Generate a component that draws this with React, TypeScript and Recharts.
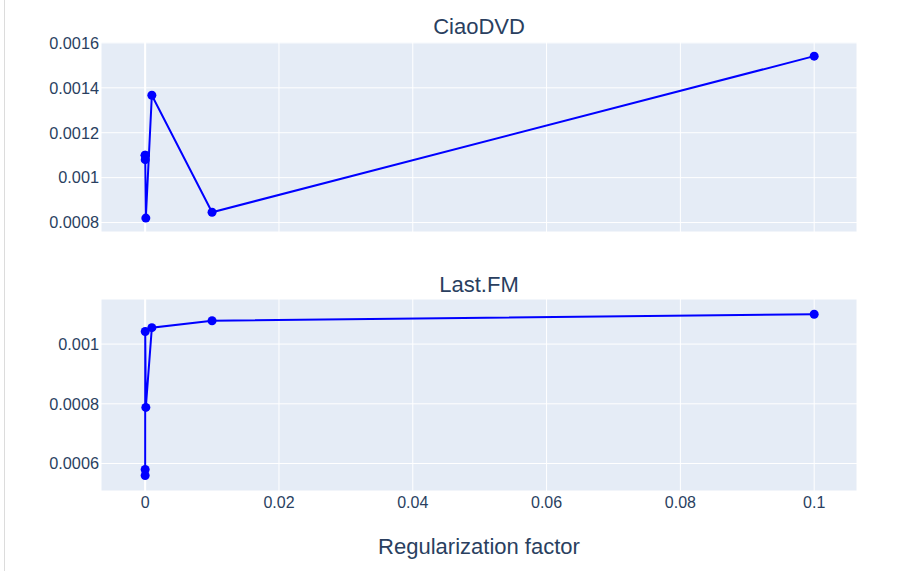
import { LineChart, Line, XAxis, YAxis, CartesianGrid, ReferenceLine } from "recharts";

// regularization factors (x) shared by both panels
const regFactors = [0, 0.000001, 0.00001, 0.0001, 0.001, 0.01, 0.1];

const ciaoDvdValues = [0.0011, 0.0011, 0.00108, 0.00082, 0.001367, 0.000846, 0.001541];
const lastFmValues = [0.00056, 0.00058, 0.001042, 0.000788, 0.001055, 0.001078, 0.0011];

const xTicks = [0, 0.02, 0.04, 0.06, 0.08, 0.1];
const ciaoTicks = [0.0008, 0.001, 0.0012, 0.0014, 0.0016];
const lastFmTicks = [0.0006, 0.0008, 0.001];

const xDomain: [number, number] = [-0.0066, 0.1064];
const ciaoDomain: [number, number] = [0.000758, 0.001604];
const lastFmDomain: [number, number] = [0.000508, 0.001151];

const TEXT = "#2a3f5f";
const FONT = '"Liberation Sans", Arial, sans-serif';

const ciaoData = regFactors.map((x, i) => ({ x, y: ciaoDvdValues[i] }));
const lastFmData = regFactors.map((x, i) => ({ x, y: lastFmValues[i] }));

function Panel({
  data,
  yDomain,
  yTicks,
  height,
  marginTop,
  showX,
}: {
  data: { x: number; y: number }[];
  yDomain: [number, number];
  yTicks: number[];
  height: number;
  marginTop: number;
  showX: boolean;
}) {
  return (
    <LineChart
      width={909}
      height={height}
      data={data}
      margin={{ top: marginTop, right: 52, left: 41, bottom: showX ? 40 : 8 }}
    >
      <CartesianGrid fill="#E5ECF6" stroke="#ffffff" strokeWidth={1} />
      <XAxis
        dataKey="x"
        type="number"
        domain={xDomain}
        ticks={xTicks}
        allowDataOverflow
        hide={!showX}
        height={40}
        axisLine={false}
        tickLine={false}
        tickSize={0}
        tickMargin={6}
        interval={0}
        tick={{ fill: TEXT, fontSize: 16 }}
      />
      <YAxis
        type="number"
        domain={yDomain}
        ticks={yTicks}
        allowDataOverflow
        width={60}
        axisLine={false}
        tickLine={false}
        tickSize={0}
        tickMargin={2}
        interval={0}
        tick={{ fill: TEXT, fontSize: 16.3 }}
      />
      <ReferenceLine x={0} stroke="#ffffff" strokeWidth={2} />
      <Line
        type="linear"
        dataKey="y"
        stroke="#0000ff"
        strokeWidth={2}
        dot={{ r: 4.5, fill: "#0000ff", stroke: "#0000ff", strokeWidth: 0 }}
        activeDot={false}
        isAnimationActive={false}
      />
    </LineChart>
  );
}

export default function App() {
  return (
    <div
      style={{
        position: "absolute",
        left: 0,
        top: 0,
        width: 909,
        height: 571,
        background: "#ffffff",
        fontFamily: FONT,
        overflow: "hidden",
      }}
    >
      <div style={{ position: "absolute", left: 4, top: 0, width: 1, height: 571, background: "#dcdcdc" }} />

      <div style={{ position: "absolute", left: 0, top: 0 }}>
        <Panel data={ciaoData} yDomain={ciaoDomain} yTicks={ciaoTicks} height={240} marginTop={42} showX={false} />
      </div>
      <div style={{ position: "absolute", left: 0, top: 258 }}>
        <Panel data={lastFmData} yDomain={lastFmDomain} yTicks={lastFmTicks} height={313} marginTop={41} showX />
      </div>

      <div style={{ position: "absolute", left: 101, width: 756, top: 14, textAlign: "center", fontSize: 22, color: TEXT, lineHeight: "26px" }}>
        CiaoDVD
      </div>
      <div style={{ position: "absolute", left: 101, width: 756, top: 272, textAlign: "center", fontSize: 22, color: TEXT, lineHeight: "26px" }}>
        Last.FM
      </div>
      <div style={{ position: "absolute", left: 101, width: 756, top: 534, textAlign: "center", fontSize: 22, color: TEXT, lineHeight: "26px" }}>
        Regularization factor
      </div>
    </div>
  );
}
